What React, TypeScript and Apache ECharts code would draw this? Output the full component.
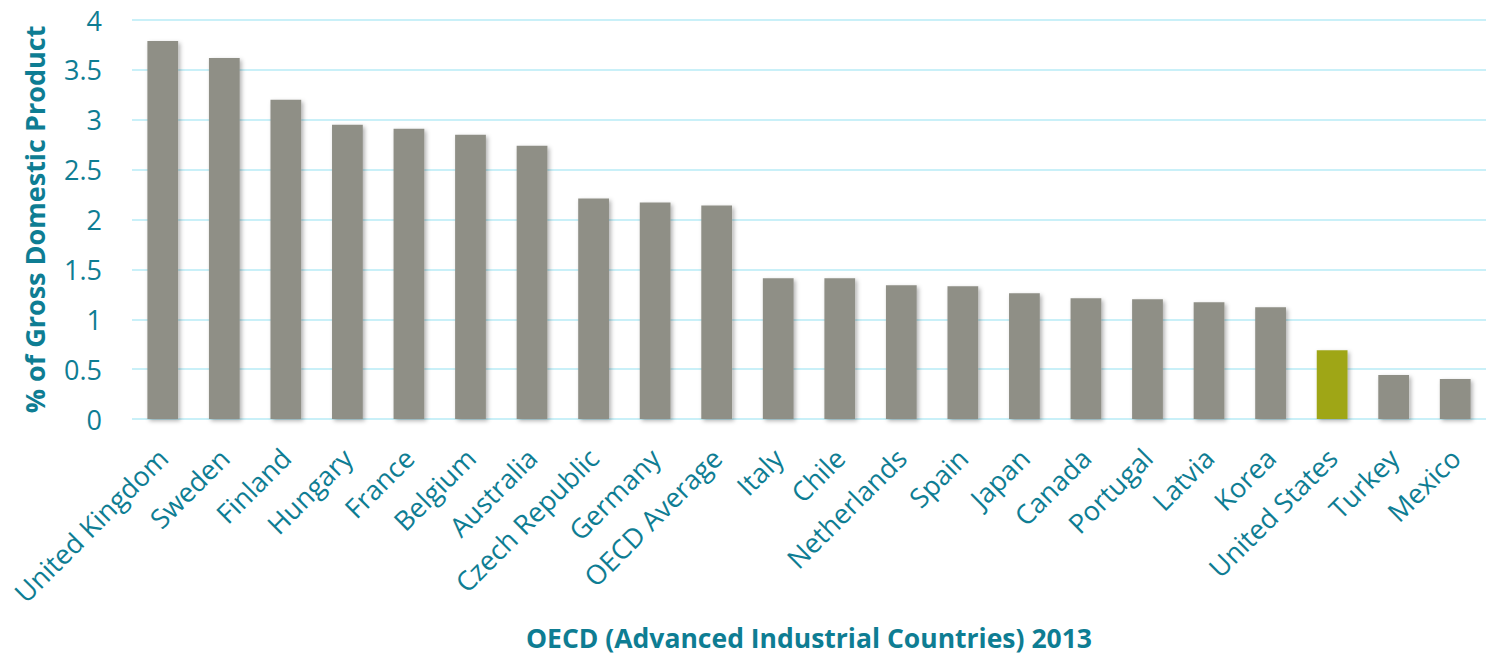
import React, { useEffect, useRef } from "react";
import * as echarts from "echarts";

const categories = [
  "United Kingdom", "Sweden", "Finland", "Hungary", "France", "Belgium", "Australia",
  "Czech Republic", "Germany", "OECD Average", "Italy", "Chile", "Netherlands", "Spain",
  "Japan", "Canada", "Portugal", "Latvia", "Korea", "United States", "Turkey", "Mexico",
];
const values = [
  3.79, 3.62, 3.2, 2.95, 2.91, 2.85, 2.74, 2.21, 2.17, 2.14, 1.41, 1.41, 1.34, 1.33,
  1.26, 1.21, 1.2, 1.17, 1.12, 0.69, 0.44, 0.4,
];
const highlight = "United States";

const TEAL = "#0e7d93";
const FONT = "'Open Sans', 'Noto Sans', sans-serif";

export default function App() {
  const ref = useRef<HTMLDivElement>(null);
  useEffect(() => {
    document.body.style.margin = "0";
    const chart = echarts.init(ref.current!, null, { renderer: "svg" });
    chart.setOption({
      animation: false,
      backgroundColor: "#ffffff",
      grid: { left: 132, right: 1, top: 20, bottom: 238 },
      xAxis: {
        type: "category",
        data: categories,
        name: "OECD (Advanced Industrial Countries) 2013",
        nameLocation: "middle",
        nameGap: 205,
        nameTextStyle: { color: TEAL, fontSize: 26.5, fontWeight: "bold", fontFamily: FONT },
        axisLine: { show: false },
        axisTick: { show: false },
        axisLabel: {
          rotate: 45,
          interval: 0,
          color: TEAL,
          fontSize: 27,
          fontFamily: FONT,
          margin: 34,
        },
      },
      yAxis: {
        type: "value",
        min: 0,
        max: 4,
        interval: 0.5,
        name: "% of Gross Domestic Product",
        nameLocation: "middle",
        nameGap: 84,
        nameTextStyle: { color: TEAL, fontSize: 27, fontWeight: "bold", fontFamily: FONT },
        axisLine: { show: false },
        axisTick: { show: false },
        axisLabel: { color: TEAL, fontSize: 27, fontFamily: FONT, margin: 30 },
        splitLine: { lineStyle: { color: "#c9f0f8", width: 2 } },
      },
      series: [
        {
          type: "bar",
          barWidth: "50%",
          data: values.map((v, i) => ({
            value: v,
            itemStyle: {
              color: categories[i] === highlight ? "#9fa619" : "#8f8f86",
            },
          })),
          itemStyle: {
            shadowColor: "rgba(0,0,0,0.3)",
            shadowBlur: 4,
            shadowOffsetX: 2,
            shadowOffsetY: 2,
          },
        },
      ],
    });
    return () => chart.dispose();
  }, []);
  return <div ref={ref} style={{ width: 1487, height: 657 }} />;
}
